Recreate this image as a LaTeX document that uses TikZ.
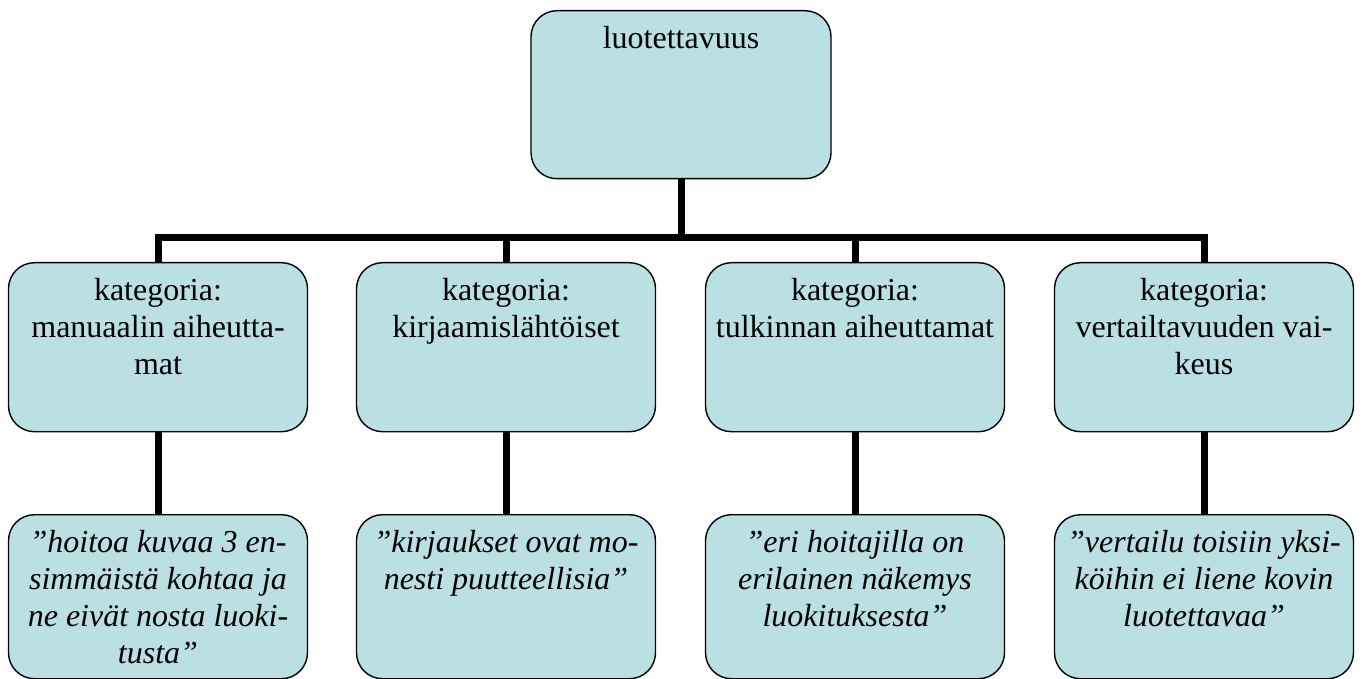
\documentclass[tikz,border=0pt]{standalone}
\usepackage{fontspec}
\setmainfont{Liberation Serif}
\definecolor{boxfill}{RGB}{186,224,227}
\newcommand{\boxtext}[3]{\parbox[t][#2][t]{#1}{\centering\rule{0pt}{38pt}#3}}
\tikzset{
  card/.style={draw=black, line width=1.4pt, fill=boxfill, rounded corners=26pt,
               inner sep=0pt, anchor=north, font=\fontsize{32}{37}\selectfont},
  quote/.style={card, font=\fontsize{32}{37}\selectfont\itshape},
  conn/.style={line width=7pt, line join=miter}
}
\begin{document}
\begin{tikzpicture}[x=1pt, y=-1pt]
\useasboundingbox (0,0) rectangle (1363,679);

% root
\node[card] (top) at (681,10) {\boxtext{300pt}{168pt}{luotettavuus}};

% categories
\node[card] (m1) at (158,262) {\boxtext{299pt}{169pt}{kategoria:\\manuaalin aiheutta-\\mat}};
\node[card] (m2) at (506,262) {\boxtext{299pt}{169pt}{kategoria:\\kirjaamislähtöiset}};
\node[card] (m3) at (855,262) {\boxtext{299pt}{169pt}{kategoria:\\tulkinnan aiheuttamat}};
\node[card] (m4) at (1204,262) {\boxtext{299pt}{169pt}{kategoria:\\vertailtavuuden vai-\\keus}};

% quotes
\node[quote] (b1) at (158,514) {\boxtext{299pt}{164pt}{”hoitoa kuvaa 3 en-\\simmäistä kohtaa ja\\ne eivät nosta luoki-\\tusta”}};
\node[quote] (b2) at (506,514) {\boxtext{299pt}{164pt}{”kirjaukset ovat mo-\\nesti puutteellisia”}};
\node[quote] (b3) at (855,514) {\boxtext{299pt}{164pt}{”eri hoitajilla on\\erilainen näkemys\\luokituksesta”}};
\node[quote] (b4) at (1204,514) {\boxtext{299pt}{164pt}{”vertailu toisiin yksi-\\köihin ei liene kovin\\luotettavaa”}};

% connectors
\coordinate (bus) at (681,238);
\draw[conn] (top.south) -- (top.south |- bus);
\draw[conn] (m1.north) -- (m1.north |- bus) -- (m4.north |- bus) -- (m4.north);
\draw[conn] (m2.north) -- (m2.north |- bus);
\draw[conn] (m3.north) -- (m3.north |- bus);
\draw[conn] (m1.south) -- (b1.north);
\draw[conn] (m2.south) -- (b2.north);
\draw[conn] (m3.south) -- (b3.north);
\draw[conn] (m4.south) -- (b4.north);
\end{tikzpicture}
\end{document}
